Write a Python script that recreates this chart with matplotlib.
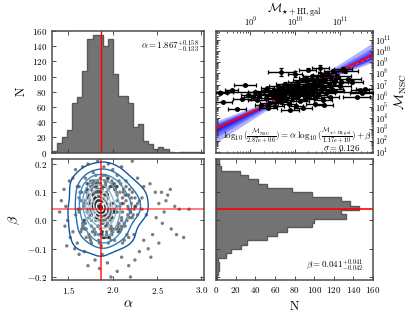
import numpy as np
import matplotlib
matplotlib.use('Agg')
import matplotlib.pyplot as plt
from matplotlib.ticker import MultipleLocator, LogLocator, NullFormatter

plt.rcParams['font.family'] = 'serif'
plt.rcParams['font.serif'] = ['cmr10', 'DejaVu Serif']
plt.rcParams['mathtext.fontset'] = 'cm'
plt.rcParams['axes.formatter.use_mathtext'] = True
plt.rcParams['font.size'] = 6.5

# --- posterior summary
alpha_med = 1.867
beta_med = 0.041
sigma = 0.126
norm_x = 1.17e10
norm_y = 2.87e6

# --- alpha histogram (30 bins over the x range)
alpha_range = (1.314, 3.03)
alpha_counts = [2, 12, 21, 29, 65, 73, 107, 150, 155, 155, 140, 150, 103, 74, 74,
                65, 34, 37, 15, 11, 4, 7, 5, 1, 0, 1, 1, 1, 1, 1]

# --- beta histogram (28 bins, bottom to top)
beta_range = (-0.209, 0.2224)
beta_counts = [1, 2, 3, 3, 2, 10, 15, 25, 32, 52, 62, 72, 98, 100, 132, 127, 146,
               137, 127, 98, 77, 52, 43, 33, 24, 5, 3, 3]

# --- posterior samples (alpha, beta)
core_a = [1.86,1.88,1.84,1.91,1.79,1.95,1.83,1.87,1.90,1.76,1.98,1.85,1.89,1.81,1.93,1.87,1.78,2.01,1.84,1.92,
          1.86,1.80,1.96,1.88,1.74,1.90,1.83,1.99,1.85,1.87,1.77,1.94,1.82,1.89,2.03,1.86,1.79,1.91,1.84,1.97,
          1.88,1.75,1.93,1.81,1.86,2.00,1.83,1.90,1.78,1.95,1.87,1.72,1.92,1.85,1.98,1.80,1.88,1.94,1.82,1.86,
          1.76,1.91,1.84,2.02,1.89,1.79,1.96,1.83,1.87,1.73,1.93,1.86,1.81,1.99,1.88,1.77,1.90,1.85,1.95,1.82,
          1.87,2.04,1.80,1.92,1.84,1.78,1.97,1.89,1.83,1.86,1.75,1.94,1.88,1.81,2.01,1.85,1.91,1.79,1.87,1.96,
          1.84,1.71,1.90,1.86,1.82,1.98,1.88,1.76,1.93,1.85,1.80,2.00,1.87,1.83,1.95,1.89,1.78,1.91,1.84,1.74,
          1.97,1.86,1.81,1.92,1.88,2.05,1.79,1.85,1.94,1.83,1.87,1.77,1.90,1.82,1.99,1.86,1.80,1.93,1.85,1.89]
core_b = [0.04,0.03,0.05,0.02,0.06,0.04,0.01,0.07,0.03,0.05,0.02,0.08,0.04,0.00,0.06,0.03,0.09,0.04,0.02,0.05,
          0.07,0.03,0.01,0.05,0.04,0.08,0.02,0.06,0.03,0.10,0.04,-0.01,0.05,0.07,0.03,0.02,0.06,0.04,0.09,0.00,
          0.05,0.03,0.07,0.01,0.04,0.06,0.08,0.02,0.05,0.03,0.04,0.06,-0.02,0.07,0.03,0.05,0.01,0.09,0.04,0.06,
          0.02,0.04,0.10,0.03,0.00,0.07,0.05,0.02,0.04,0.08,0.06,0.03,0.05,0.01,0.07,0.04,0.02,0.11,0.03,0.06,
          0.04,0.05,0.08,0.01,0.03,0.06,0.04,-0.01,0.07,0.05,0.02,0.09,0.04,0.06,0.03,0.00,0.05,0.08,0.02,0.04,
          0.07,0.03,0.05,0.10,0.01,0.06,0.04,0.02,-0.02,0.05,0.08,0.03,0.06,0.04,0.01,0.07,0.05,0.09,0.03,0.06,
          0.02,0.04,0.07,0.00,0.05,0.03,0.06,0.08,0.04,0.02,0.05,0.10,0.03,0.07,0.01,0.04,0.06,0.02,0.05,0.03]
mid_a = [1.58,1.62,1.65,1.60,1.67,1.70,1.63,1.68,1.72,1.66,1.74,1.69,1.61,1.75,1.71,1.64,1.78,1.73,1.80,1.76,
         2.05,2.10,2.08,2.15,2.12,2.20,2.18,2.25,2.07,2.14,2.22,2.28,2.11,2.17,2.30,2.09,2.24,2.33,2.13,2.19,
         1.82,1.90,1.86,1.95,1.78,1.99,1.84,1.92,1.88,2.02,1.80,1.94,1.87,1.97,1.83,1.91,1.76,2.00,1.89,1.85,
         1.82,1.93,1.86,1.98,1.79,2.03,1.88,1.95,1.84,1.90,1.72,2.06,1.77,1.96,1.81,2.10,1.69,2.16,1.74,2.21,
         1.65,1.70,1.75,1.80,1.85,1.90,1.95,2.00,2.05,2.10,2.15,2.20,2.25,1.68,1.73,1.78,1.83,1.88,1.93,1.98,
         2.03,2.08,2.13,2.18,2.23,2.28,1.63,1.71,1.76,1.81,1.86,1.91,1.96,2.01,2.06,2.11,2.16,2.21,1.67,1.72,
         1.77,1.82,1.87,1.92,1.97,2.02,2.07,2.12,2.17,2.26,1.64,1.69,1.74,1.79,1.84,1.89,1.94,1.99,2.04,2.09,
         2.14,2.19,2.24,1.66,1.71,1.79,1.84,1.89,1.94,2.00,2.06,2.12,2.18,1.62,1.70,1.76,1.82,1.88,1.93,1.99,
         2.04,2.10,2.16,2.22,1.68,1.74,1.80,1.86,1.92,1.98,2.05,2.11,2.02,1.75,1.81,1.87,1.95,2.08,1.72,1.90]
mid_b = [0.02,0.08,-0.03,0.12,0.05,-0.06,0.10,0.00,0.13,-0.01,0.07,0.15,0.04,-0.07,0.11,-0.04,0.14,-0.05,0.12,-0.08,
         0.09,0.01,-0.04,0.12,0.06,0.03,-0.06,0.08,0.14,-0.02,0.10,0.02,-0.08,0.05,0.07,0.13,-0.05,0.04,-0.07,0.11,
         0.13,-0.06,0.15,-0.08,0.12,0.14,-0.07,0.16,-0.05,0.13,-0.04,0.15,-0.09,0.12,0.14,-0.06,0.11,-0.03,0.16,-0.08,
         0.10,-0.05,0.13,-0.07,0.14,0.11,-0.04,0.15,-0.02,0.12,0.09,-0.03,0.13,-0.06,0.16,0.06,0.07,-0.05,-0.06,0.08,
         0.10,-0.03,0.12,-0.05,0.13,-0.06,0.11,-0.04,0.12,0.00,0.07,0.03,0.05,0.06,0.01,0.09,-0.02,0.11,-0.04,0.12,
         -0.03,0.10,-0.01,0.09,0.02,0.06,0.04,0.11,-0.02,0.13,-0.05,0.14,-0.06,0.12,-0.02,0.08,0.00,0.06,0.00,0.08,
         -0.04,0.12,-0.05,0.13,-0.03,0.11,-0.01,0.10,0.02,0.05,0.07,-0.01,0.09,-0.03,0.11,-0.06,0.14,-0.04,0.10,-0.03,
         0.09,0.01,0.04,-0.02,0.13,0.08,-0.05,0.12,-0.06,0.13,-0.04,0.11,0.04,0.03,0.10,0.00,0.11,-0.04,0.10,-0.05,
         0.12,-0.02,0.09,0.01,-0.03,0.06,0.10,-0.03,0.12,-0.02,0.07,0.03,-0.07,0.14,0.07,-0.01,0.08,0.05,0.04,0.09]
outer_a = [1.42,1.45,1.47,1.46,1.49,1.48,1.52,1.51,1.55,1.58,1.62,1.66,1.72,1.78,1.83,1.90,1.95,2.00,2.05,2.10,
           2.15,2.22,2.28,2.35,2.42,2.48,2.55,2.62,2.65,2.60,2.70,2.75,2.52,2.58,2.49,2.56,2.66,2.72,2.80,2.86,
           2.45,2.52,2.40,2.43,2.30,2.25,2.18,2.10,2.05,1.98,1.94,1.88,1.85,1.80,1.72,1.68,1.62,1.57,1.60,1.55,
           2.20,2.35,2.38,2.33,1.40]
outer_b = [0.07,0.11,0.05,-0.02,0.00,-0.09,-0.06,0.14,0.15,0.18,0.12,0.19,0.20,0.17,0.21,0.19,0.20,0.18,0.16,0.19,
           0.14,0.21,0.15,0.12,0.13,0.10,0.10,0.09,0.11,0.07,0.05,0.04,0.06,0.03,0.01,-0.01,-0.03,-0.05,-0.06,0.04,
           -0.05,-0.08,-0.10,-0.13,-0.11,-0.14,-0.16,-0.13,-0.18,-0.20,-0.15,-0.12,-0.17,-0.14,-0.16,-0.11,-0.12,-0.10,-0.08,-0.04,
           -0.20,-0.07,0.02,0.08,0.03]

# --- galaxies: log10 M_gal, log10 M_NSC, x error (dex), y error (dex)
gal_logm = [8.32,8.40,8.47,8.58,8.70,8.81,8.88,8.95,9.05,9.10,9.15,9.20,9.25,9.30,9.35,9.38,9.42,9.45,9.50,9.52,
            9.55,9.58,9.60,9.62,9.65,9.68,9.69,9.70,9.72,9.75,9.78,9.80,9.82,9.85,9.87,9.90,9.92,9.95,9.97,10.00,
            10.00,10.02,10.05,10.07,10.10,10.12,10.15,10.17,10.20,10.22,10.25,10.27,10.30,10.32,10.35,10.37,10.40,10.42,10.45,10.47,
            10.50,10.52,10.55,10.57,10.58,10.60,10.62,10.65,10.68,10.70,10.72,10.75,10.78,10.80,10.82,10.85,10.88,10.90,10.95,11.00,
            11.04,11.08,11.12,11.18,11.27,11.38,11.45,11.49,11.57,9.88,10.18,10.45,9.40,10.65,10.28,9.90,
            9.95,10.05,10.15,10.25,10.35,9.85,9.75,10.45,10.55,10.10,9.65,10.30,10.40,10.20,9.98]
gal_lognsc = [6.28,5.48,6.37,6.52,4.80,5.72,6.97,6.05,5.90,6.30,5.60,6.10,5.20,6.45,5.85,6.70,5.40,6.20,5.95,6.55,
              5.10,6.35,5.70,6.85,6.05,5.45,8.16,6.60,5.90,6.25,7.10,5.60,6.45,6.80,5.30,6.15,6.95,5.85,6.55,7.96,
              6.30,5.05,7.20,6.00,6.70,5.55,7.40,6.20,6.90,5.75,7.60,6.45,7.05,5.95,6.65,7.75,6.30,7.30,5.80,6.95,
              7.50,6.10,7.15,8.47,6.55,7.85,5.60,6.80,7.40,6.25,8.00,7.00,5.90,7.60,6.60,8.20,7.20,6.40,7.80,6.90,
              7.27,8.40,8.22,7.50,7.27,5.92,6.50,6.23,6.60,4.70,4.95,5.30,4.95,5.20,8.35,6.37,
              6.60,6.40,6.55,6.75,6.85,6.40,6.15,6.60,6.95,6.10,6.30,6.25,6.50,6.35,6.85]
gal_dx = [0.15,0.2,0.15,0.15,0.2,0.2,0.25,0.15,0.2,0.15,0.2,0.2,0.15,0.2,0.2,0.15,0.2,0.2,0.15,0.2,
          0.2,0.15,0.2,0.2,0.15,0.2,0.3,0.2,0.15,0.2,0.2,0.15,0.2,0.2,0.15,0.2,0.2,0.15,0.2,0.15,
          0.2,0.15,0.2,0.2,0.15,0.2,0.2,0.15,0.2,0.2,0.15,0.2,0.2,0.15,0.2,0.2,0.15,0.2,0.2,0.15,
          0.2,0.2,0.25,0.2,0.2,0.2,0.2,0.15,0.25,0.2,0.2,0.25,0.2,0.2,0.25,0.2,0.3,0.2,0.3,0.25,
          0.25,0.2,0.3,0.3,0.25,0.3,0.2,0.25,0.2,0.2,0.2,0.2,0.2,0.2,0.2,2.0,
          0.2,0.15,0.2,0.2,0.15,0.2,0.2,0.15,0.2,0.2,0.15,0.2,0.2,0.15,0.2]
gal_dy = [0.12,0.1,0.12,0.1,0.1,0.12,0.1,0.1,0.12,0.1,0.1,0.12,0.1,0.1,0.12,0.1,0.1,0.12,0.1,0.1,
          0.12,0.1,0.1,0.12,0.1,0.1,0.35,0.1,0.12,0.1,0.15,0.1,0.12,0.1,0.1,0.12,0.1,0.1,0.12,0.25,
          0.1,0.12,0.15,0.1,0.12,0.1,0.15,0.1,0.12,0.1,0.15,0.1,0.12,0.1,0.1,0.15,0.1,0.12,0.1,0.1,
          0.15,0.1,0.12,0.3,0.1,0.15,0.1,0.12,0.15,0.1,0.2,0.12,0.1,0.15,0.1,0.2,0.12,0.1,0.15,0.12,
          0.12,0.2,0.15,0.12,0.12,0.1,0.1,0.1,0.1,0.1,0.1,0.1,0.1,0.1,0.15,0.05,
          0.12,0.1,0.12,0.1,0.12,0.1,0.12,0.1,0.12,0.1,0.12,0.1,0.12,0.1,0.12]

# --- fan of posterior slopes (pairs lo/hi)
fan_lo = [1.50, 1.60, 1.67, 1.72, 1.76, 1.80, 1.83]
fan_hi = [2.55, 2.30, 2.15, 2.05, 1.98, 1.93, 1.90]

fig = plt.figure(figsize=(4.15, 3.12), dpi=100)
ax_a = fig.add_axes([0.1253, 0.5112, 0.3663, 0.3894])
ax_fit = fig.add_axes([0.5205, 0.5112, 0.3783, 0.3894])
ax_ab = fig.add_axes([0.1253, 0.1026, 0.3663, 0.3878])
ax_b = fig.add_axes([0.5205, 0.1026, 0.3783, 0.3878])

for ax in (ax_a, ax_fit, ax_ab, ax_b):
    for s in ax.spines.values():
        s.set_color('0.3')
        s.set_linewidth(1.1)
    ax.tick_params(which='both', direction='in', top=True, right=True, color='0.2',
                   width=0.6, labelsize=6.5)
    ax.tick_params(which='major', length=3)
    ax.tick_params(which='minor', length=1.5)

# alpha histogram
a_edges = np.linspace(alpha_range[0], alpha_range[1], len(alpha_counts) + 1)
a_cent = 0.5 * (a_edges[:-1] + a_edges[1:])
ax_a.hist(a_cent, bins=a_edges, weights=alpha_counts, histtype='stepfilled',
          facecolor='0.45', edgecolor='0.35', lw=1)
ax_a.axvline(alpha_med, color='red', lw=1)
ax_a.set_xlim(alpha_range)
ax_a.set_ylim(0, 160)
ax_a.yaxis.set_major_locator(MultipleLocator(20))
ax_a.xaxis.set_major_locator(MultipleLocator(0.5))
ax_a.tick_params(labelbottom=False)
ax_a.set_ylabel('N', fontsize=9, labelpad=3)
ax_a.text(0.967, 0.877, r'$\alpha = 1.867^{+0.158}_{-0.133}$', transform=ax_a.transAxes,
          ha='right', va='center', fontsize=6.5)

# beta histogram
b_edges = np.linspace(beta_range[0], beta_range[1], len(beta_counts) + 1)
b_cent = 0.5 * (b_edges[:-1] + b_edges[1:])
ax_b.hist(b_cent, bins=b_edges, weights=beta_counts, histtype='stepfilled',
          orientation='horizontal', facecolor='0.45', edgecolor='0.35', lw=1)
ax_b.axhline(beta_med, color='red', lw=1.2)
ax_b.set_xlim(0, 160)
ax_b.set_ylim(-0.2106, 0.2177)
ax_b.xaxis.set_major_locator(MultipleLocator(20))
ax_b.yaxis.set_major_locator(MultipleLocator(0.1))
ax_b.tick_params(labelleft=False)
ax_b.set_xlabel('N', fontsize=9)
ax_b.text(0.936, 0.124, r'$\beta = 0.041^{+0.041}_{-0.042}$', transform=ax_b.transAxes,
          ha='right', va='center', fontsize=6.5)

# alpha-beta scatter with density contours
pa = np.array(core_a + mid_a + outer_a)
pb = np.array(core_b + mid_b + outer_b)
ax_ab.scatter(pa, pb, s=6, c='0.15', alpha=0.6, edgecolors='none', zorder=1)
ga = np.linspace(1.3, 3.05, 160)
gb = np.linspace(-0.22, 0.23, 160)
A, B = np.meshgrid(ga, gb)
dens = np.exp(-0.5 * (((A[..., None] - pa) / 0.085) ** 2 + ((B[..., None] - pb) / 0.03) ** 2)).sum(-1)
levels = dens.max() * np.array([0.06, 0.13, 0.22, 0.33, 0.45, 0.58, 0.72, 0.85, 0.95])
ax_ab.contour(A, B, dens, levels=levels, colors=plt.cm.Blues(np.linspace(0.85, 0.03, len(levels))),
              linewidths=1, zorder=2)
ax_ab.axvline(alpha_med, color='red', lw=1.2, alpha=0.8, zorder=3)
ax_ab.axhline(beta_med, color='red', lw=1.2, alpha=0.6, zorder=3)
ax_ab.set_xlim(alpha_range)
ax_ab.set_ylim(-0.2106, 0.2177)
ax_ab.xaxis.set_major_locator(MultipleLocator(0.5))
ax_ab.yaxis.set_major_locator(MultipleLocator(0.1))
ax_ab.set_xlabel(r'$\alpha$', fontsize=10, labelpad=2)
ax_ab.set_ylabel(r'$\beta$', fontsize=10)

# scaling relation panel
lx0 = np.log10(norm_x)
ly0 = np.log10(norm_y)
lx = np.linspace(8.233, 11.745, 100)
for lo, hi in zip(fan_lo, fan_hi):
    y1 = ly0 + beta_med + lo * (lx - lx0)
    y2 = ly0 + beta_med + hi * (lx - lx0)
    ax_fit.fill_between(10 ** lx, 10 ** np.minimum(y1, y2), 10 ** np.maximum(y1, y2),
                        color='blue', alpha=0.3, lw=0, zorder=1)
ax_fit.plot(10 ** lx, 10 ** (ly0 + 0.0 + 1.83 * (lx - lx0)), color='#ff7070', lw=0.8, ls='--', zorder=2)
ax_fit.plot(10 ** lx, 10 ** (ly0 + beta_med + alpha_med * (lx - lx0)), color='red', lw=1.4, zorder=3)

gx = np.array(gal_logm)
gy = np.array(gal_lognsc)
dx = np.array(gal_dx)
dy = np.array(gal_dy)
X = 10 ** gx
Y = 10 ** gy
xerr = [X - 10 ** (gx - dx), 10 ** (gx + dx) - X]
yerr = [Y - 10 ** (gy - dy), 10 ** (gy + dy) - Y]
ax_fit.errorbar(X, Y, xerr=xerr, yerr=yerr, fmt='o', color='k', ms=2.5,
                elinewidth=1.0, capsize=1.5, capthick=0.9, zorder=4)
ax_fit.set_xscale('log')
ax_fit.set_yscale('log')
ax_fit.set_xlim(10 ** 8.233, 10 ** 11.745)
ax_fit.set_ylim(10 ** 0.93, 10 ** 11.8)
ax_fit.yaxis.set_major_locator(LogLocator(base=10, numticks=20))
ax_fit.yaxis.set_minor_locator(LogLocator(base=10, subs=np.arange(2, 10), numticks=30))
ax_fit.yaxis.set_minor_formatter(NullFormatter())
ax_fit.xaxis.set_minor_formatter(NullFormatter())
ax_fit.tick_params(labelbottom=False, labelleft=False, labeltop=True, labelright=True,
                   labelsize=6, pad=1.5)
ax_fit.xaxis.set_label_position('top')
ax_fit.yaxis.set_label_position('right')
ax_fit.set_xlabel(r'$\mathcal{M}_{\star{\rm +HI,gal}}$', fontsize=8.5, labelpad=3)
ax_fit.set_ylabel(r'$\mathcal{M}_{\rm NSC}$', fontsize=9.5, labelpad=1)
ax_fit.text(0.995, 0.14,
            r'$\log_{10}(\frac{\mathcal{M}_{\rm NSC}}{2.87e+06}) = \alpha\ \log_{10}(\frac{\mathcal{M}_{\star{\rm +HI,gal}}}{1.17e+10}) + \beta$',
            transform=ax_fit.transAxes, ha='right', va='center', fontsize=6.5)
ax_fit.text(0.92, 0.04, r'$\sigma = 0.126$', transform=ax_fit.transAxes,
            ha='right', va='center', fontsize=6.5)

fig.savefig('out.png', dpi=100)
